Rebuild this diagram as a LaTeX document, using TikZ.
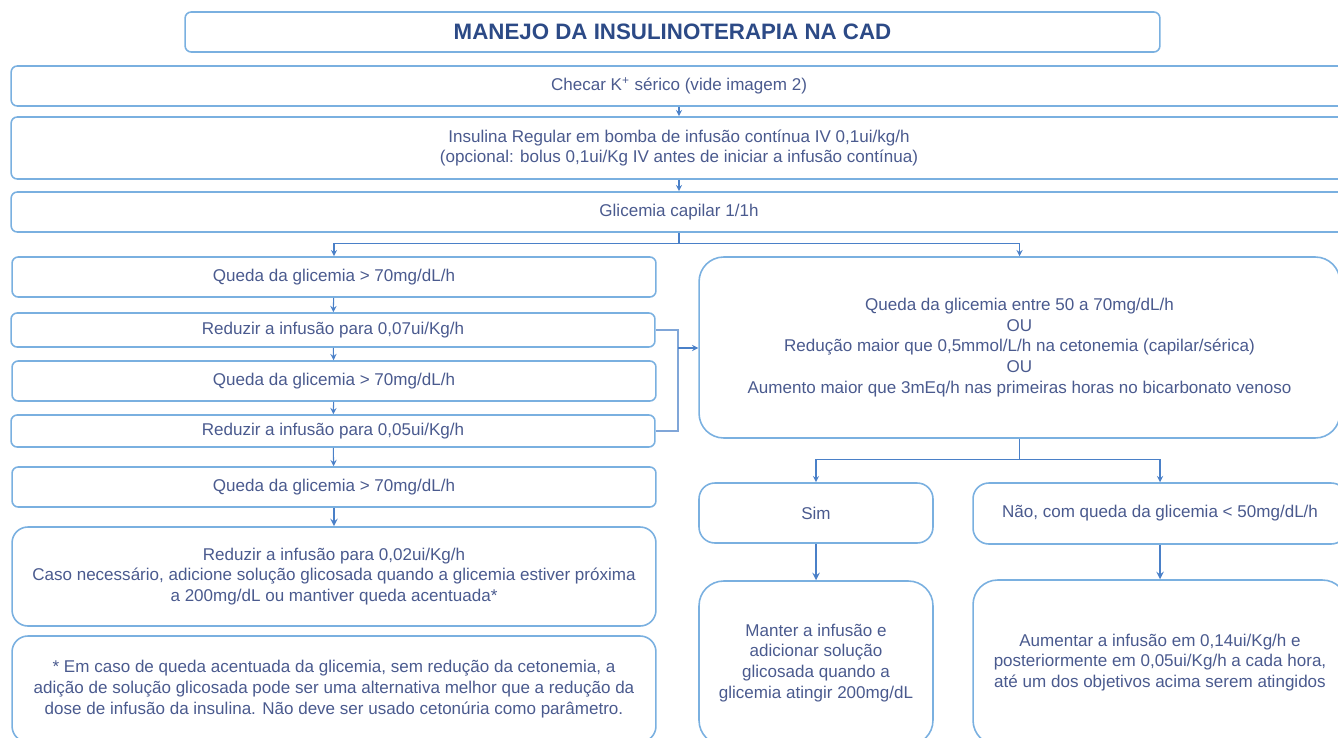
\documentclass[tikz,border=0pt]{standalone}
\usepackage{fontspec}
\setmainfont{Liberation Sans}
\usetikzlibrary{arrows,calc}
\definecolor{boxline}{HTML}{7AB0E0}
\definecolor{txt}{HTML}{4A5A8E}
\definecolor{ttl}{HTML}{2C4A86}
\definecolor{conn}{HTML}{4A80C8}

\begin{document}
\begin{tikzpicture}[x=0.02cm,y=-0.02cm]
	\tikzstyle{be} = [rectangle, rounded corners=3.5pt, draw=boxline, line width=0.9pt, text=txt, align=center, inner sep=0pt, font=\fontsize{9.7}{11.9}\selectfont]
	\tikzstyle{node} = [be, minimum width=12.88cm, minimum height=0.8cm]
	\tikzstyle{wide} = [be, minimum width=26.72cm]
	\tikzstyle{round} = [be, rounded corners=9pt]
	\tikzstyle{arrow} = [conn, line width=0.6pt, ->, >=stealth]
	\tikzstyle{line} = [conn!70, line width=0.6pt]
  \useasboundingbox (0,0) rectangle (1338,737);

  \node(title)[be, minimum width=19.5cm, minimum height=0.8cm, text=ttl, font=\bfseries\fontsize{12.7}{14}\selectfont] at (672.5,32) {MANEJO DA INSULINOTERAPIA NA CAD};
  \node(checar)[wide, minimum height=0.8cm] at (679,86) {Checar K\textsuperscript{+} sérico (vide imagem 2)};
  \node(insulina)[wide, minimum height=1.24cm] at (679,148) {Insulina Regular em bomba de infusão contínua IV 0,1ui/kg/h\\(opcional: bolus 0,1ui/Kg IV antes de iniciar a infusão contínua)};
  \node(glic)[wide, minimum height=0.8cm] at (679,212) {Glicemia capilar 1/1h};

  \node(q1)[node] at (334,277) {Queda da glicemia > 70mg/dL/h};
  \node(r07)[node, minimum height=0.68cm] at (333,330) {Reduzir a infusão para 0,07ui/Kg/h};
  \node(q2)[node] at (334,381) {Queda da glicemia > 70mg/dL/h};
  \node(r05)[node, minimum height=0.64cm] at (333,431) {Reduzir a infusão para 0,05ui/Kg/h};
  \node(q3)[node] at (334,487) {Queda da glicemia > 70mg/dL/h};
  \node(r02)[node, round, minimum height=1.98cm] at (334,576.5) {Reduzir a infusão para 0,02ui/Kg/h\\Caso necessário, adicione solução glicosada quando a glicemia estiver próxima\\a 200mg/dL ou mantiver queda acentuada*};
  \node(nota)[node, round, minimum height=2.12cm] at (334,689) {* Em caso de queda acentuada da glicemia, sem redução da cetonemia, a\\adição de solução glicosada pode ser uma alternativa melhor que a redução da\\dose de infusão da insulina. Não deve ser usado cetonúria como parâmetro.};

  \node(big)[round, rounded corners=14pt, minimum width=12.82cm, minimum height=3.62cm] at (1019.5,347.5) {Queda da glicemia entre 50 a 70mg/dL/h\\OU\\Redução maior que 0,5mmol/L/h na cetonemia (capilar/sérica)\\OU\\Aumento maior que 3mEq/h nas primeiras horas no bicarbonato venoso};
  \node(sim)[round, minimum width=4.68cm, minimum height=1.2cm] at (816,513) {Sim};
  \node(nao)[round, minimum width=7.48cm, minimum height=1.22cm] at (1160,513.5) {Não, com queda da glicemia < 50mg/dL/h};
  \node(manter)[round, rounded corners=14pt, minimum width=4.68cm, minimum height=3.28cm] at (816,663) {Manter a infusão e\\adicionar solução\\glicosada quando a\\glicemia atingir 200mg/dL};
  \node(aum)[round, rounded corners=14pt, minimum width=7.48cm, minimum height=3.3cm] at (1160,662.5) {Aumentar a infusão em 0,14ui/Kg/h e\\posteriormente em 0,05ui/Kg/h a cada hora,\\até um dos objetivos acima serem atingidos};

  \coordinate(brk) at (678,348);

  \draw [arrow] (checar) -- (insulina);
  \draw [arrow] (insulina) -- (glic);
  \draw [arrow] (glic.south) -- ++(0,11) -| (q1.north);
  \draw [arrow] (glic.south) -- ++(0,11) -| (big.north);
  \draw [arrow] (q1) -- (r07);
  \draw [arrow] (r07) -- (q2);
  \draw [arrow] (q2) -- (r05);
  \draw [arrow] (r05) -- (q3);
  \draw [arrow, line width=0.9pt] (q3) -- (r02);
  \draw [line] (r07.east) -| (brk);
  \draw [line] (r05.east) -| (brk);
  \draw [arrow] (brk) -- (brk -| big.west);
  \draw [arrow] (big.south) -- ++(0,21) -| (sim.north);
  \draw [arrow] (big.south) -- ++(0,21) -| (nao.north);
  \draw [arrow, line width=0.9pt] (sim) -- (manter);
  \draw [arrow, line width=0.9pt] (nao) -- (aum);
\end{tikzpicture}
\end{document}
